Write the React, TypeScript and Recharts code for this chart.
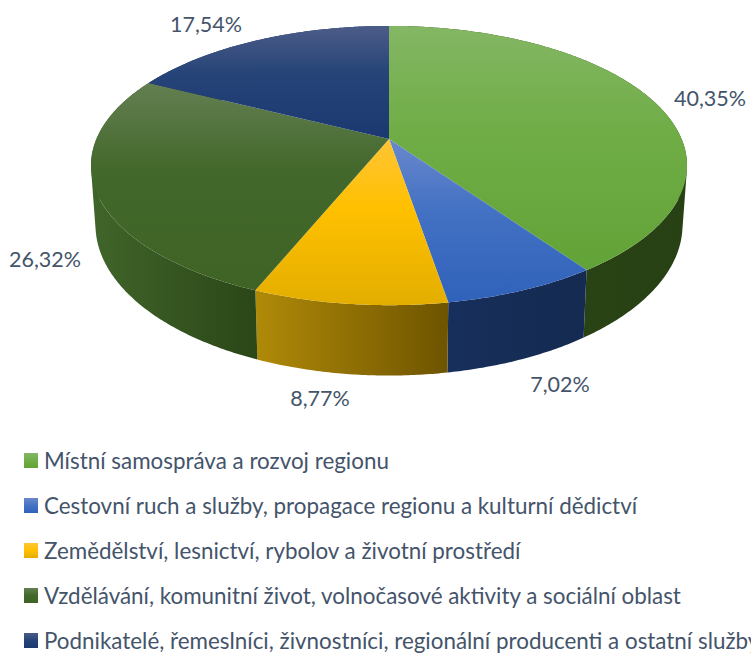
import React from "react";
import { PieChart, Pie, Legend } from "recharts";

const categories = [
  "Místní samospráva a rozvoj regionu",
  "Cestovní ruch a služby, propagace regionu a kulturní dědictví",
  "Zemědělství, lesnictví, rybolov a životní prostředí",
  "Vzdělávání, komunitní život, volnočasové aktivity a sociální oblast",
  "Podnikatelé, řemeslníci, živnostníci, regionální producenti a ostatní služby",
];
const counts = [23, 4, 5, 15, 10];
const percentLabels = ["40,35%", "7,02%", "8,77%", "26,32%", "17,54%"];

// top face gradient: light, base, dark
const topStops = [
  ["#84b764", "#70ad47", "#62a337"],
  ["#6a88cc", "#4472c4", "#2f62ba"],
  ["#ffc436", "#ffc000", "#e3ae00"],
  ["#637f52", "#43682b", "#3e6325"],
  ["#4c5c88", "#264478", "#1b3870"],
];
// side wall gradient: left, right
const sideStops = [
  ["#2b4617", "#284114"],
  ["#172f5c", "#142a50"],
  ["#b08a08", "#6e5400"],
  ["#40652a", "#2b4617"],
  ["#1b3264", "#1b3264"],
];
const labelAnchors = [
  [710, 106],
  [560, 392],
  [320, 406],
  [45, 267],
  [206, 32],
];

const SQUASH = 0.46;
const PERSPECTIVE = 0.19;
const DEPTH = 57;
const BASE_SHRINK = 0.985;
const TEXT = "#44546A";
const FONT = "Lato, 'Open Sans', sans-serif";

const tableData = categories.map((name, i) => ({ name, value: counts[i], idx: i }));

function project(cx: number, cy: number, r: number, deg: number, base: boolean) {
  const a = (deg * Math.PI) / 180;
  const u = Math.cos(a);
  const v = -Math.sin(a);
  const w = 1 - PERSPECTIVE * v;
  const x = cx + ((base ? BASE_SHRINK : 1) * r * u) / w;
  const y = cy + (r * SQUASH * v) / w + (base ? DEPTH / w : 0);
  return [x, y];
}

function arcPoints(cx: number, cy: number, r: number, start: number, end: number, base: boolean) {
  const n = Math.max(2, Math.ceil(Math.abs(end - start) / 0.5));
  const pts: number[][] = [];
  for (let i = 0; i <= n; i++) pts.push(project(cx, cy, r, start + ((end - start) * i) / n, base));
  return pts;
}

const toPath = (pts: number[][]) =>
  "M" + pts.map((p) => p[0].toFixed(2) + "," + p[1].toFixed(2)).join("L") + "Z";

function signedArea(pts: number[][]) {
  let s = 0;
  for (let i = 0; i < pts.length; i++) {
    const p = pts[i];
    const q = pts[(i + 1) % pts.length];
    s += p[0] * q[1] - q[0] * p[1];
  }
  return s;
}

function TopFace(props: any) {
  const { cx, cy, outerRadius, startAngle, endAngle, idx } = props;
  const id = "top" + idx;
  const pts = [[cx, cy], ...arcPoints(cx, cy, outerRadius, startAngle, endAngle, false)];
  const s = topStops[idx];
  return (
    <g>
      <defs>
        <linearGradient id={id} x1="0" y1="0" x2="0" y2="1">
          <stop offset="0" stopColor={s[0]} />
          <stop offset="0.42" stopColor={s[1]} />
          <stop offset="1" stopColor={s[2]} />
        </linearGradient>
      </defs>
      <path d={toPath(pts)} fill={`url(#${id})`} stroke="none" />
    </g>
  );
}

function SideWall(props: any) {
  const { cx, cy, outerRadius, startAngle, endAngle, idx } = props;
  const id = "side" + idx;
  const topRim = arcPoints(cx, cy, outerRadius, startAngle, endAngle, false);
  const baseRim = arcPoints(cx, cy, outerRadius, startAngle, endAngle, true);
  let d = "";
  for (let i = 0; i + 1 < topRim.length; i++) {
    const quad = [topRim[i], topRim[i + 1], baseRim[i + 1], baseRim[i]];
    d += toPath(signedArea(quad) < 0 ? quad.reverse() : quad);
  }
  const s = sideStops[idx];
  return (
    <g>
      <defs>
        <linearGradient id={id} x1="0" y1="0" x2="1" y2="0">
          <stop offset="0" stopColor={s[0]} />
          <stop offset="1" stopColor={s[1]} />
        </linearGradient>
      </defs>
      <path d={d} fill={`url(#${id})`} stroke="none" />
    </g>
  );
}

function renderLabel(props: any) {
  const i = props.index;
  return (
    <text x={labelAnchors[i][0]} y={labelAnchors[i][1]} textAnchor="middle" fill={TEXT} fontFamily={FONT} fontSize={21.5}>
      {percentLabels[i]}
    </text>
  );
}

function LegendRows() {
  return (
    <div style={{ position: "relative", width: 751, height: 213, overflow: "hidden" }}>
      {categories.map((name, i) => (
        <div
          key={name}
          style={{ position: "absolute", left: 24, top: 8.6 + i * 45, display: "flex", alignItems: "center", whiteSpace: "nowrap", height: 24 }}
        >
          <span
            style={{
              width: 14,
              height: 15,
              marginRight: 6,
              flex: "none",
              background: `linear-gradient(${topStops[i][0]}, ${topStops[i][1]} 50%, ${topStops[i][2]})`,
            }}
          />
          <span style={{ color: TEXT, fontFamily: FONT, fontSize: 22.4 }}>{name}</span>
        </div>
      ))}
    </div>
  );
}

export default function App() {
  const shared = {
    data: tableData,
    dataKey: "value",
    nameKey: "name",
    cx: 389,
    cy: 139,
    outerRadius: 292.6,
    startAngle: 90,
    endAngle: -270,
    stroke: "none",
    isAnimationActive: false,
  };
  return (
    <div style={{ position: "fixed", left: 0, top: 0, width: 751, height: 653, overflow: "hidden", background: "#fff" }}>
      <PieChart width={751} height={653} margin={{ top: 0, right: 0, bottom: 0, left: 0 }}>
        <Pie {...shared} shape={SideWall} legendType="none" label={false} />
        <Pie {...shared} shape={TopFace} label={renderLabel} labelLine={false} />
        <Legend content={() => <LegendRows />} wrapperStyle={{ position: "absolute", left: 0, top: 440, width: 751, height: 213 }} />
      </PieChart>
    </div>
  );
}
